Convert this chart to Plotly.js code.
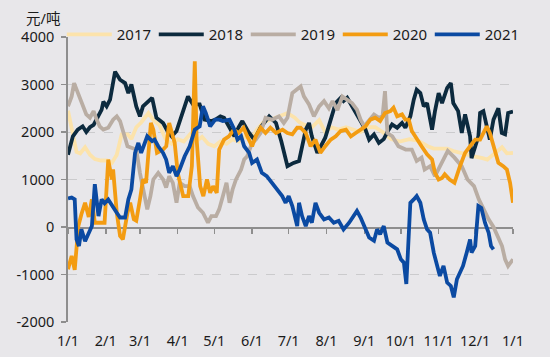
<!DOCTYPE html>
<html>
<head>
<meta charset="utf-8">
<script src="https://cdn.plot.ly/plotly-3.0.1.min.js"></script>
<style>
html,body{margin:0;padding:0;background:#e8e7ea;}
#chart{width:550px;height:357px;}
</style>
</head>
<body>
<div id="chart"></div>
<script>
// Day-of-year (0 = 1 Jan) and price spread values (元/吨) for each year
const seriesNames = ['2017', '2018', '2019', '2020', '2021'];

const days2017 = [0,4,7,10,14,18,22,27,32,36,40,44,49,52,56,60,63,66,70,75,80,85,90,95,100,105,110,115,120,125,130,135,140,145,150,155,160,165,170,175,180,186,190,194,200,206,211,216,222,228,235,240,246,252,258,265,272,280,287,295,300,306,311,316,323,330,334,340,344,350,356,360,365];
const vals2017 = [2450,1900,1580,1550,1680,1520,1430,1400,1400,1350,1520,1950,1950,1850,2100,2200,2300,2400,2250,2150,1850,1750,1850,1800,1950,1800,1900,1750,1700,1800,1750,1850,1800,1900,1850,2050,2200,2250,2300,2350,2400,2300,2200,2150,2100,2250,2000,2100,2050,2100,2050,2000,2100,2100,2000,1850,1800,1850,1820,1700,1650,1650,1650,1600,1550,1500,1480,1450,1420,1550,1680,1550,1560];

const days2018 = [0,4,8,12,15,18,21,25,27.6,29,31.7,34.5,38.6,42.7,46.8,49.5,52,56,59,61.5,64,69,72.5,78,82,85,89,93,96,98.4,102.5,108,112,117.6,121,125,128,132,136.5,140,143,148,152.8,158,165,170.6,175,180,185,189.5,192,195,197.7,200,204.5,207,211,215.5,219.6,223.7,226,229,233,237,241.4,244,247,251,255,259,263,265.8,270,274,276.7,280.8,283.6,286,289,291.8,294.5,297,298.6,301,304,306.8,311,314,316,320,323,325.7,329.8,331,334,336.6,338,340.7,343.5,346,349,353,355.8,358.5,361,365];
const vals2018 = [1520,1910,2050,2120,2000,2100,2150,2330,2470,2640,2540,2680,3270,3100,3030,2820,3000,2540,2330,2540,2600,2720,2300,2190,2000,1910,2020,2330,2500,2750,2580,2580,2260,2230,2260,2330,2300,2100,1910,2100,2230,2000,1840,2100,2330,2190,1800,1280,1350,1390,1700,2050,2190,1910,1560,1700,1880,2260,2610,2720,2650,2720,2540,2400,2190,2050,1840,1950,1770,1850,2050,2160,2090,2190,2090,2330,2680,2890,2820,2540,2610,2190,2050,2440,2820,2610,2930,3030,2610,2440,1980,2370,1910,1450,1700,1910,2400,2440,2120,1840,2260,2500,1980,1950,2400,2430];

const days2019 = [0,3,5,7,10,12.6,15,18,21,23.5,26,29,33,37,40,42.7,45,48.8,52,56,59,62,65,67.6,70,74,78,80.5,83,86,89,91.6,95.7,99.8,102.5,106.6,110.7,114.8,117.6,121.4,124,127,130,132.5,135,137.8,142,144.5,147,151,154,158,162,167.5,173,177,180,184,187,190.8,193.5,197.7,201.7,206,210,214,217,221,225,229,233,237,240,243,247,251,255,258,260,262,266,271,277,282,286,290,292.5,297,301,306.8,311.5,317,323,327.7,333,337,341,345,349,352,356,358.5,361,365];
const vals2019 = [2540,2750,3030,2900,2700,2540,2370,2300,2440,2260,2120,2050,2090,2260,2330,2230,2050,1700,1670,1630,1140,790,370,650,1000,1140,1000,830,1070,930,510,930,860,860,650,410,300,90,230,230,370,650,930,510,790,1000,1210,1420,1490,1770,1840,1980,2300,2260,2330,2190,2300,2820,2890,2960,2750,2580,2330,2540,2650,2500,2650,2460,2750,2680,2610,2470,2260,2120,2260,2370,2300,2330,2860,1980,1910,1700,1630,1630,1390,1460,1210,1280,1070,1350,1600,1460,1280,1000,860,580,370,160,0,-190,-400,-680,-820,-680];

const days2020 = [0,3,5.5,8.5,11,14,17,19.6,22,26,30,33,36,37,40,42.7,45,48.8,51,54,56,59,61.5,64,66.5,68,70,73,78,80.6,83,87.5,90,94.5,98.6,101.6,104,105.5,108.4,111,114,116.6,119,122,124,125.5,128,132,136,140,144,147,151,154,158,162,166,170.6,176,180,184,188,190.8,195,199,203,207,211,215.5,219.6,223.7,228,232,236,240,244,248,252,256,260,264.5,267,270,274,276.7,279.5,282,286,290,294.5,298.6,301,304,306.8,309,313,317,321.5,325.7,329.8,334,338,340.7,343.5,346,349,353,357,360,362.6,365];
const vals2020 = [-890,-610,-900,20,270,510,210,580,90,90,90,1420,1000,1210,300,-190,-260,300,510,160,130,580,1000,930,1630,2190,2050,1560,1630,1700,2190,1770,1140,650,650,1280,3490,1840,860,650,1000,720,860,720,1630,1700,1840,1910,2050,1980,2090,1910,1700,1910,2090,1980,2090,1980,2050,1980,1950,2090,2090,1980,1700,1840,1560,1700,1840,1910,2020,2050,1910,1980,2050,2120,2260,2300,2230,2400,2440,2510,2330,2370,2260,2260,2020,1840,1700,1530,1420,1140,1000,1030,1110,1000,930,1280,1560,1700,1840,1840,1980,2120,1980,1700,1350,1280,1210,930,510];

const days2021 = [0,3,5.5,7,9,11,14,16.7,19.6,22,25,27.6,30,33,36,40,42.7,46.8,49.5,52,55,57.7,60,62,65,69,71,74,78,80.5,83,86,89,91.6,95.7,99.8,104,108,110.7,113,116.6,120.7,124,127,132.5,136.5,139,142,144.5,148.6,151,155,159,163,167.5,171.6,175.7,178.5,181,184,187,188,189.5,192,195,197.7,200,203,206,210,214,218,222,226,230.6,234.8,237,240,243,247,251,253.5,256,259,262,266,270,273,275.5,277.5,279,280.8,283.6,286,289,291.8,294.5,297,300,302.5,305,308,311,314,316.4,319,321.5,324,327,329.8,331,334,336.6,339,342,345,347,349];
const vals2021 = [600,620,580,-260,-400,-50,-300,-150,20,900,230,580,500,580,450,300,200,200,580,790,1560,1770,1560,1700,1910,1810,1840,1700,1560,1420,1140,1280,1070,1210,1490,1700,2050,2120,2540,2400,2120,2260,2260,2230,2260,2050,1840,1910,1700,1560,1350,1420,1140,1070,930,790,650,510,650,440,90,20,510,230,20,230,90,510,300,160,200,90,130,-50,90,270,340,200,20,-220,-290,-50,-150,20,-330,-400,-470,-680,-750,-1200,-400,510,580,650,510,160,-50,-120,-540,-820,-1030,-820,-1170,-1240,-1480,-1100,-960,-820,-540,-260,-540,-400,440,400,90,-120,-400,-470];

const yTickVals = [-2000, -1000, 0, 1000, 2000, 3000, 4000];
const yTickText = ['-2000', '-1000', '0', '1000', '2000', '3000', '4000'];
const unitLabel = '元/吨';

const colors = ['#fce3ab', '#0c2a3e', '#b9ada3', '#f39c12', '#0b4aa2'];
const allDays = [days2017, days2018, days2019, days2020, days2021];
const allVals = [vals2017, vals2018, vals2019, vals2020, vals2021];

function toDate(d) {
  const t = Date.UTC(2021, 0, 1) + Math.round(d * 86400000);
  return new Date(t).toISOString().slice(0, 19).replace('T', ' ');
}

const traces = seriesNames.map((name, i) => ({
  type: 'scatter',
  mode: 'lines',
  name: name,
  x: allDays[i].map(toDate),
  y: allVals[i],
  xaxis: i === seriesNames.length - 1 ? 'x2' : 'x',
  yaxis: 'y',
  line: {color: colors[i], width: 3.8, shape: 'linear'},
  hoverinfo: 'skip'
}));

const font = {family: 'Noto Sans, "Noto Sans CJK SC", sans-serif', size: 14.5, color: '#1b1b1b'};
const xRange = ['2021-01-01', '2022-01-01'];

const layout = {
  width: 550, height: 357,
  margin: {l: 68, r: 37, t: 37, b: 35, pad: 0},
  paper_bgcolor: '#e8e7ea',
  plot_bgcolor: '#e8e7ea',
  font: font,
  showlegend: true,
  legend: {
    orientation: 'h', x: -0.014, xanchor: 'left', y: 1.008, yanchor: 'middle',
    font: {family: font.family, size: 15, color: '#1b1b1b'},
    bgcolor: 'rgba(0,0,0,0)', borderwidth: 0,
    entrywidth: 32, entrywidthmode: 'pixels', itemwidth: 45,
    traceorder: 'normal'
  },
  xaxis: {
    type: 'date', range: xRange, tick0: '2021-01-01', dtick: 'M1',
    tickformat: '%-m/%-d', showgrid: false, zeroline: false, showline: false,
    ticks: '', ticklabelstandoff: 8, tickfont: font, fixedrange: true
  },
  xaxis2: {
    type: 'date', range: xRange, overlaying: 'x', anchor: 'free', position: 1/3,
    tick0: '2021-01-01', dtick: 'M1', showticklabels: false, showgrid: false,
    zeroline: false, showline: true, linecolor: '#8e8e8e', linewidth: 1.5,
    ticks: 'outside', ticklen: 5, tickwidth: 1.5, tickcolor: '#8e8e8e', layer: 'below traces'
  },
  yaxis: {
    range: [-2000, 4000], tickvals: yTickVals, ticktext: yTickText,
    showgrid: true, gridcolor: '#cbcbcd', griddash: 'dash', gridwidth: 1,
    zeroline: false, showline: true, linecolor: '#8e8e8e', linewidth: 1.8,
    ticks: 'outside', ticklen: 5, tickwidth: 1.5, tickcolor: '#8e8e8e',
    ticklabelstandoff: 4, tickfont: font, fixedrange: true
  },
  annotations: [{
    text: unitLabel, xref: 'paper', yref: 'paper', x: -0.056, y: 1.068,
    xanchor: 'center', yanchor: 'middle', showarrow: false,
    font: {family: font.family, size: 14.5, color: '#1b1b1b'}
  }]
};

Plotly.newPlot('chart', traces, layout, {displayModeBar: false, staticPlot: true});
</script>
</body>
</html>
